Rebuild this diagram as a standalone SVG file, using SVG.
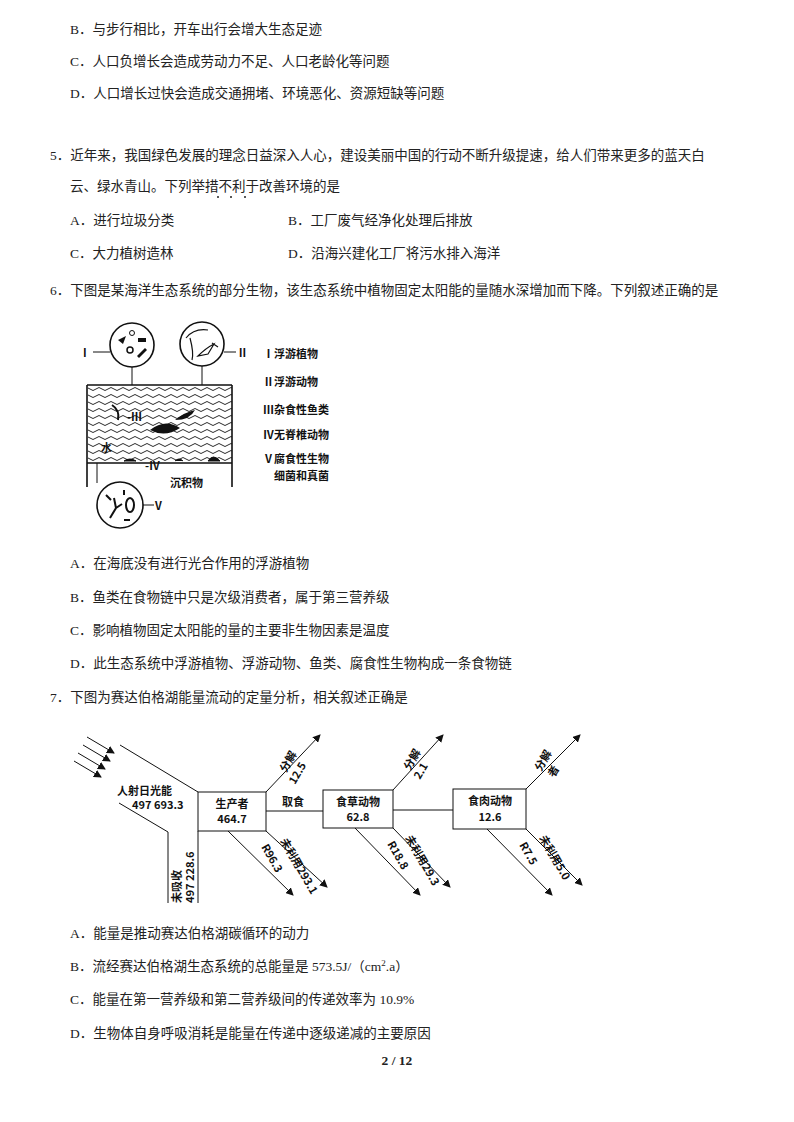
<svg xmlns="http://www.w3.org/2000/svg" width="794" height="1122" viewBox="0 0 794 1122">
<style>
.t{font-family:"Liberation Serif","Noto Sans CJK SC",serif;font-size:13.5px;fill:#222}
.f{font-family:"Noto Sans CJK SC",sans-serif;font-weight:bold;font-size:11px;fill:#111}
.l{stroke:#111;stroke-width:1.6;fill:none}
.w{stroke:#111;stroke-width:1;fill:none}
</style>
<defs><marker id="a" markerWidth="8" markerHeight="8" refX="7" refY="4" orient="auto" markerUnits="userSpaceOnUse"><path d="M0,0 L8,4 L0,8 Z" fill="#111"/></marker>
<pattern id="wv" width="12" height="7" patternUnits="userSpaceOnUse"><path d="M0,4 Q3,1 6,4 T12,4" stroke="#111" stroke-width="0.9" fill="none"/></pattern></defs>
<rect width="794" height="1122" fill="#fff"/>
<g id="text">
<text class="t" x="70" y="34">B．与步行相比，开车出行会增大生态足迹</text>
<text class="t" x="70" y="66">C．人口负增长会造成劳动力不足、人口老龄化等问题</text>
<text class="t" x="70" y="98">D．人口增长过快会造成交通拥堵、环境恶化、资源短缺等问题</text>
<text class="t" x="50" y="160">5．近年来，我国绿色发展的理念日益深入人心，建设美丽中国的行动不断升级提速，给人们带来更多的蓝天白</text>
<text class="t" x="70" y="191">云、绿水青山。下列举措不利于改善环境的是</text>
<circle cx="218" cy="197" r="1" fill="#222"/><circle cx="231" cy="197" r="1" fill="#222"/><circle cx="245" cy="197" r="1" fill="#222"/>
<text class="t" x="70" y="225">A．进行垃圾分类</text>
<text class="t" x="288" y="225">B．工厂废气经净化处理后排放</text>
<text class="t" x="70" y="258">C．大力植树造林</text>
<text class="t" x="288" y="258">D．沿海兴建化工厂将污水排入海洋</text>
<text class="t" x="50" y="295">6．下图是某海洋生态系统的部分生物，该生态系统中植物固定太阳能的量随水深增加而下降。下列叙述正确的是</text>
<text class="t" x="70" y="568">A．在海底没有进行光合作用的浮游植物</text>
<text class="t" x="70" y="602">B．鱼类在食物链中只是次级消费者，属于第三营养级</text>
<text class="t" x="70" y="635">C．影响植物固定太阳能的量的主要非生物因素是温度</text>
<text class="t" x="70" y="668">D．此生态系统中浮游植物、浮游动物、鱼类、腐食性生物构成一条食物链</text>
<text class="t" x="50" y="702">7．下图为赛达伯格湖能量流动的定量分析，相关叙述正确是</text>
<text class="t" x="70" y="938">A．能量是推动赛达伯格湖碳循环的动力</text>
<text class="t" x="70" y="971">B．流经赛达伯格湖生态系统的总能量是 573.5J/（cm<tspan font-size="9" dy="-5">2</tspan><tspan dy="5">.a）</tspan></text>
<text class="t" x="70" y="1004">C．能量在第一营养级和第二营养级间的传递效率为 10.9%</text>
<text class="t" x="70" y="1038">D．生物体自身呼吸消耗是能量在传递中逐级递减的主要原因</text>
<text class="t" x="397" y="1065" text-anchor="middle" font-weight="bold">2 / 12</text>
</g>
<g id="fig1">
<rect x="88" y="386" width="144" height="77" fill="url(#wv)"/>
<path class="l" d="M87,385 H232 M87,385 V487 M232,385 V487 M87,463 H232"/>
<path class="w" d="M132,367 V385 M202,366 V385 M97,463 V483"/>
<circle cx="132" cy="345" r="22" fill="#fff" class="l"/>
<circle cx="202" cy="344" r="22" fill="#fff" class="l"/>
<circle cx="120" cy="505" r="23" fill="#fff" class="l"/>
<g fill="#111"><path d="M118,340 l8,-4 -3,8z"/><circle cx="130" cy="350" r="3" fill="none" stroke="#111" stroke-width="1.5"/><path d="M138,338 h8 v4 h-8z M137,356 l8,-8 2,2 -8,8z"/><circle cx="132" cy="333" r="2.5" fill="none" stroke="#111"/></g>
<g stroke="#111" fill="none" stroke-width="1.2"><path d="M186,338 q8,-10 22,-8 M190,338 q4,15 2,22 M198,356 q8,-8 16,-12 l-6,10 z M212,343 l6,4"/></g>
<g stroke="#111" stroke-width="2" fill="none"><path d="M110,518 l6,-10 -2,-10 M116,508 l6,-4 M106,495 l5,5 M124,495 v-5"/><ellipse cx="130" cy="505" rx="4" ry="7"/><path d="M124,520 h6"/></g>
<path d="M150,430 q15,-12 30,-2 q-15,10 -30,2z M175,420 q10,-8 20,-10 q-5,10 -20,10z" fill="#111"/>
<path d="M112,405 q8,5 6,15" stroke="#111" stroke-width="2" fill="none"/>
<path d="M124,461 q6,-4 12,0z M175,461 q4,-4 8,0 M208,461 q5,-8 12,0z" fill="#111" stroke="#111"/>
<text class="f" x="127" y="421">-Ⅲ</text>
<text class="f" x="101" y="452" font-weight="normal">水</text>
<text class="f" x="145" y="470">-Ⅳ</text>
<text class="f" x="170" y="487" font-size="12" font-weight="normal">沉积物</text>
<text class="f" x="83" y="357" font-size="13">I</text><path class="w" d="M93,352 H110"/>
<path class="w" d="M224,352 H236"/><text class="f" x="237" y="357" font-size="13">Ⅱ</text>
<path class="w" d="M143,505 H154"/><text class="f" x="155" y="510" font-size="13">V</text>
<text class="f" x="263" y="358" font-size="12">Ⅰ浮游植物</text>
<text class="f" x="263" y="386" font-size="12">Ⅱ浮游动物</text>
<text class="f" x="263" y="414" font-size="12">Ⅲ杂食性鱼类</text>
<text class="f" x="263" y="439" font-size="12">Ⅳ无脊椎动物</text>
<text class="f" x="263" y="463" font-size="12">Ⅴ腐食性生物</text>
<text class="f" x="274" y="480" font-size="12">细菌和真菌</text>
</g>
<g id="connectors">
<path class="w" marker-end="url(#a)" d="M87,737 L114,753"/>
<path class="w" marker-end="url(#a)" d="M83,745 L110,761"/>
<path class="w" marker-end="url(#a)" d="M78,753 L105,769"/>
<path class="w" marker-end="url(#a)" d="M74,761 L101,777"/>
<path class="w" d="M120,745 L198,792 M119,803 L168,832 V903 M198,831 V903 M266,811 H323 M393,810 H453"/>
<path class="w" marker-end="url(#a)" d="M266,792 L320,735"/>
<path class="w" marker-end="url(#a)" d="M393,790 L443,735"/>
<path class="w" marker-end="url(#a)" d="M526,789 L580,735"/>
<path class="w" marker-end="url(#a)" d="M228,831 L293,895"/>
<path class="w" marker-end="url(#a)" d="M266,831 L327,887"/>
<path class="w" marker-end="url(#a)" d="M355,828 L420,895"/>
<path class="w" marker-end="url(#a)" d="M393,828 L450,887"/>
<path class="w" marker-end="url(#a)" d="M487,829 L552,895"/>
<path class="w" marker-end="url(#a)" d="M526,829 L582,885"/>
</g>
<g id="producer"><rect x="198" y="792" width="68" height="39" class="w"/><text class="f" x="232" y="808" text-anchor="middle">生产者</text><text class="f" x="232" y="823" text-anchor="middle">464.7</text></g>
<g id="herbivore"><rect x="323" y="790" width="70" height="38" class="w"/><text class="f" x="358" y="806" text-anchor="middle">食草动物</text><text class="f" x="358" y="821" text-anchor="middle">62.8</text></g>
<g id="carnivore"><rect x="453" y="789" width="73" height="40" class="w"/><text class="f" x="490" y="805" text-anchor="middle">食肉动物</text><text class="f" x="490" y="821" text-anchor="middle">12.6</text></g>
<g id="labels2">
<text class="f" x="117" y="795">人射日光能</text>
<text class="f" x="132" y="809">497 693.3</text>
<text class="f" x="282" y="806">取食</text>
<text class="f" transform="translate(286,773) rotate(-60)">分解</text>
<text class="f" transform="translate(295,785) rotate(-60)">12.5</text>
<text class="f" transform="translate(410,771) rotate(-60)">分解</text>
<text class="f" transform="translate(420,780) rotate(-60)">2.1</text>
<text class="f" transform="translate(541,772) rotate(-60)">分解</text>
<text class="f" transform="translate(554,778) rotate(-60)">者</text>
<text class="f" transform="translate(261,847) rotate(60)">R96.3</text>
<text class="f" transform="translate(280,841) rotate(60)">未利用293.1</text>
<text class="f" transform="translate(387,844) rotate(60)">R18.8</text>
<text class="f" transform="translate(405,838) rotate(60)">未利用29.3</text>
<text class="f" transform="translate(519,845) rotate(60)">R7.5</text>
<text class="f" transform="translate(539,838) rotate(60)">未利用5.0</text>
<text class="f" transform="translate(181,903) rotate(-90)">未吸收</text>
<text class="f" transform="translate(194,903) rotate(-90)">497 228.6</text>
</g>
</svg>
